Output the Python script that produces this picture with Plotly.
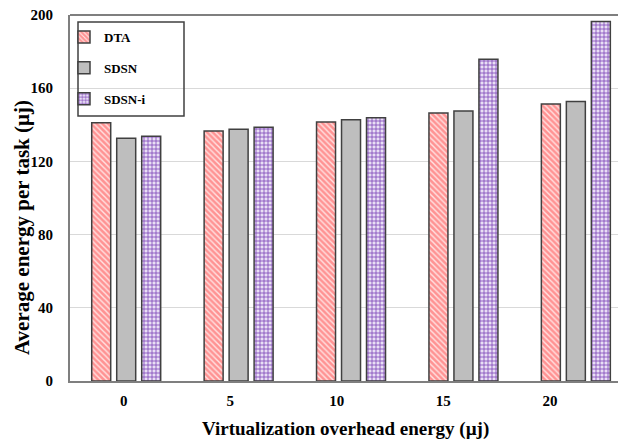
import plotly.graph_objects as go

# Virtualization overhead energy levels (categories on the x axis)
overhead = ["0", "5", "10", "15", "20"]

# Average energy per task for each scheme
dta = [141.1, 136.6, 141.5, 146.4, 151.3]
sdsn = [132.6, 137.6, 142.7, 147.6, 152.8]
sdsn_i = [133.8, 138.6, 143.8, 175.8, 196.4]

y_ticks = [0, 40, 80, 120, 160, 200]

W, H = 618, 444
M_L, M_R, M_T, M_B = 70, 0, 15, 63
PW, PH = W - M_L - M_R, H - M_T - M_B


def px_x(p):
    return (p - M_L) / PW


def px_y(p):
    return (H - M_B - p) / PH


FONT = "Liberation Serif"
OUTLINE = dict(color="#404040", width=1.5)

fig = go.Figure()

fig.add_trace(go.Bar(
    name="<b>DTA</b>", x=overhead, y=dta, legendgroup="a",
    marker=dict(color="#ff9b9b", line=OUTLINE,
                pattern=dict(shape="\\", fgcolor="#ffe3e3", bgcolor="#ff9393",
                             size=4, solidity=0.35, fillmode="replace")),
))
fig.add_trace(go.Bar(
    name="<b>SDSN</b>", x=overhead, y=sdsn, legendgroup="b",
    marker=dict(color="#bebebe", line=OUTLINE),
))
fig.add_trace(go.Bar(
    name="<b>SDSN-i</b>", x=overhead, y=sdsn_i, legendgroup="c",
    marker=dict(color="#d8c6ea", line=OUTLINE,
                pattern=dict(shape="+", fgcolor="#7a3fb5", bgcolor="#e9dff5",
                             size=4, solidity=0.35, fillmode="replace")),
))

# invisible trace that carries the category tick labels on an overlaid axis
fig.add_trace(go.Scatter(x=overhead, y=[None] * len(overhead), xaxis="x2",
                         showlegend=False, hoverinfo="skip"))

fig.update_layout(
    width=W, height=H,
    margin=dict(l=M_L, r=M_R, t=M_T, b=M_B),
    paper_bgcolor="white", plot_bgcolor="white",
    font=dict(family=FONT, color="black"),
    barmode="group", bargap=0.333, bargroupgap=0.24,
    showlegend=True,
    legend=dict(x=px_x(64), y=px_y(22), xanchor="left", yanchor="top",
                bgcolor="rgba(0,0,0,0)", borderwidth=0,
                font=dict(family=FONT, size=13, color="black"),
                tracegroupgap=11, traceorder="grouped"),
    xaxis=dict(type="category", range=[-0.5, 4.375],
               showticklabels=False, ticks="", showgrid=False,
               showline=True, linecolor="#7f7f7f", linewidth=2),
    xaxis2=dict(type="category", overlaying="x", side="bottom",
                range=[-0.504, 4.639], showgrid=False, showline=False,
                ticks="", ticklabelstandoff=9,
                tickfont=dict(family=FONT, size=15)),
    yaxis=dict(range=[0, 200], tickvals=y_ticks,
               ticktext=[f"<b>{v}</b>" for v in y_ticks],
               tickfont=dict(family=FONT, size=15), ticks="",
               showgrid=True, gridcolor="#d9d9d9", gridwidth=1,
               zeroline=False, ticklabelstandoff=12,
               showline=True, linecolor="#7f7f7f", linewidth=2),
    annotations=[
        dict(text="<b>Virtualization overhead energy (µj)</b>",
             xref="paper", yref="paper", x=px_x(345), y=px_y(429),
             xanchor="center", yanchor="middle", showarrow=False,
             font=dict(family=FONT, size=19)),
        dict(text="<b>Average energy per task (µj)</b>", textangle=-90,
             xref="paper", yref="paper", x=px_x(22), y=px_y(228),
             xanchor="center", yanchor="middle", showarrow=False,
             font=dict(family=FONT, size=21)),
    ],
    shapes=[
        # top frame line
        dict(type="line", xref="paper", yref="paper", x0=0, x1=1, y0=1, y1=1,
             line=dict(color="#7f7f7f", width=2)),
        # legend frame
        dict(type="rect", xref="paper", yref="paper",
             x0=px_x(78), x1=px_x(184), y0=px_y(116), y1=px_y(22),
             line=dict(color="#404040", width=1.5), fillcolor="rgba(0,0,0,0)"),
    ],
)

# tick labels in bold on the overlaid axis
fig.update_layout(xaxis2=dict(tickvals=overhead,
                              ticktext=[f"<b>{c}</b>" for c in overhead]))

fig.write_html("out.html")
